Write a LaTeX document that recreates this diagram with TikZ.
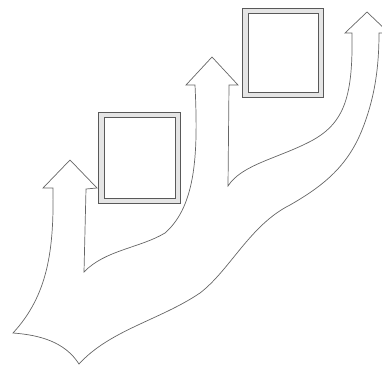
\documentclass[tikz,border=0pt]{standalone}
\usepackage{tikz}

\tikzset{
  outline/.style={draw=black!60,line width=0.7pt,line join=miter},
  framebox/.style={draw=black!65,line width=0.6pt}
}

\begin{document}
\begin{tikzpicture}[x=1pt,y=-1pt]
	\useasboundingbox (0,0) rectangle (382,367);
	\clip (0,0) rectangle (382,367);
	% branching arrows
	\draw[outline] (70,160) -- (43,188) -- (53,188)
		.. controls (54,250) and (48,295) .. (13,333)
		.. controls (40,335) and (65,342) .. (79,364)
		.. controls (110,330) and (160,320) .. (200,293)
		.. controls (230,270) and (250,225) .. (290,205)
		.. controls (325,185) and (348,165) .. (362,130)
		.. controls (374,100) and (379,70) .. (379,33)
		-- (389,33) -- (367,12) -- (345,33) -- (352,33)
		.. controls (353,95) and (345,122) .. (313,140)
		.. controls (280,158) and (242,164) .. (228,186)
		-- (229,85) -- (238,85) -- (212,57) -- (186,85) -- (195,85)
		.. controls (198,150) and (197,205) .. (165,233)
		.. controls (140,248) and (105,250) .. (84,272)
		-- (86,189) -- (97,188) -- cycle;
	% squares with double frame
	\foreach \xa/\ya/\xb/\yb in {98/112/180/203, 242/8/323/97}{
		\fill[black!10,even odd rule] (\xa,\ya) rectangle (\xb,\yb)
			(\xa+6,\ya+5) rectangle (\xb-5,\yb-5);
		\draw[framebox] (\xa,\ya) rectangle (\xb,\yb);
		\draw[framebox] (\xa+6,\ya+5) rectangle (\xb-5,\yb-5);
	}
\end{tikzpicture}
\end{document}
